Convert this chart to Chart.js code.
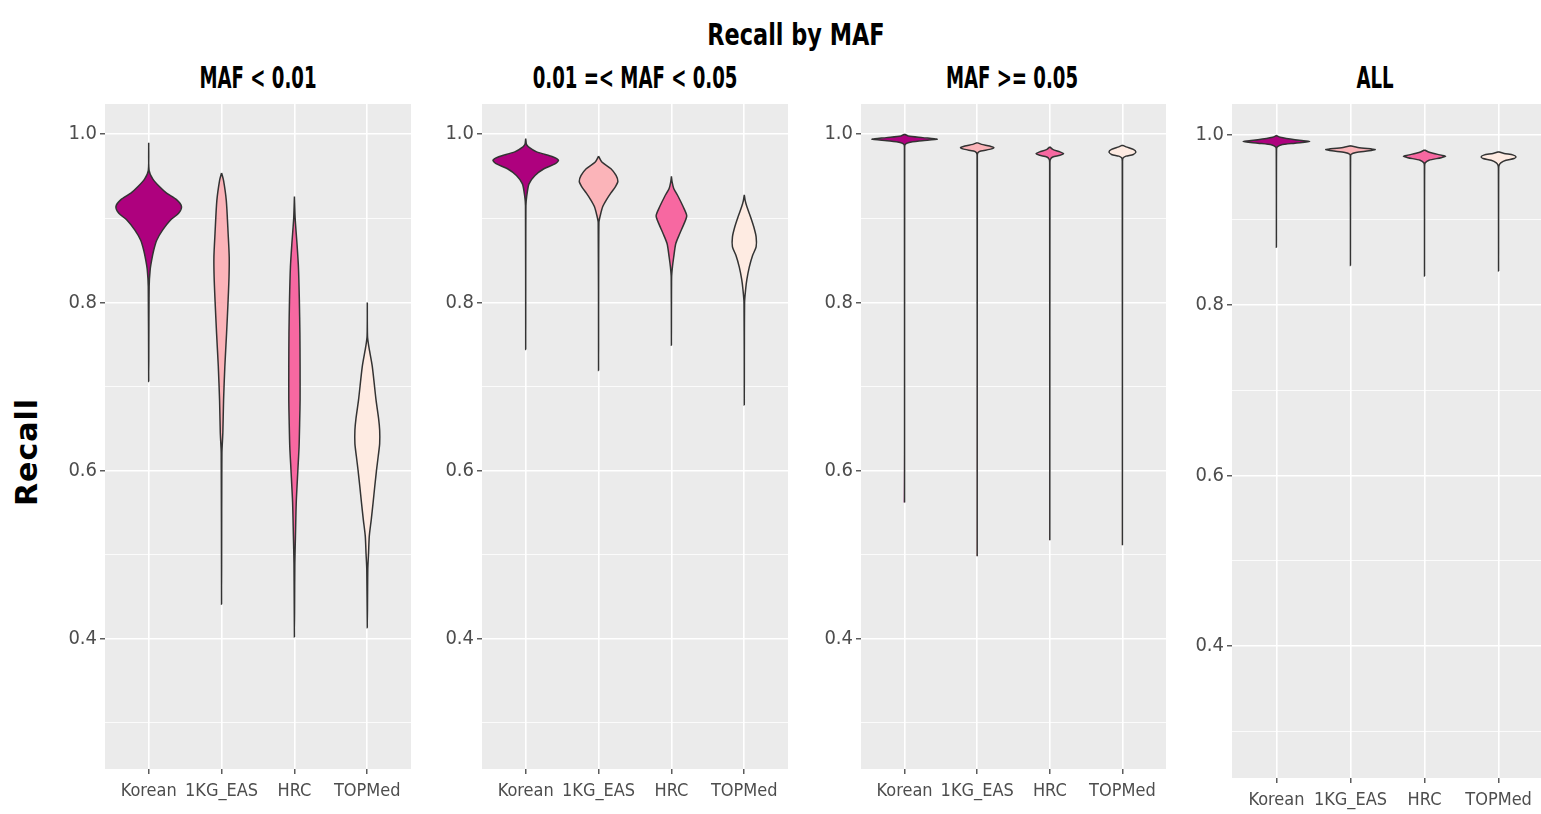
<!DOCTYPE html>
<html>
<head>
<meta charset="utf-8">
<script src="https://cdn.jsdelivr.net/npm/chart.js@4.4.1/dist/chart.umd.min.js"></script>
<style>
    body {
        margin: 0;
        width: 1541px;
        height: 814px;
        overflow: hidden;
        position: relative;
        background: #fff;
        font-family: 'DejaVu Sans Condensed', 'DejaVu Sans', sans-serif;
    }
    canvas { position: absolute; }
    .title {
        position: absolute;
        font-weight: bold;
        color: #000;
        white-space: nowrap;
        line-height: 1;
    }
    #main-title { font-size: 30px; left: 796px; top: 20px; transform: translateX(-50%) scaleX(0.83); }
    .panel-title { font-size: 31px; top: 62px; transform: translateX(-50%) scaleX(0.65); }
    #y-title {
        position: absolute;
        left: 27px;
        top: 452px;
        font-family: 'DejaVu Sans', sans-serif;
        font-weight: bold;
        font-size: 30px;
        letter-spacing: 1px;
        line-height: 1;
        transform: translate(-50%, -50%) rotate(-90deg);
    }
</style>
</head>
<body>
<div id="main-title" class="title">Recall by MAF</div>
<div id="y-title">Recall</div>

<script>
const groups = ['Korean', '1KG_EAS', 'HRC', 'TOPMed'];
const groupColors = ['#AE017E', '#FBB4B9', '#F768A1', '#FEEBE2'];
const panelTitles = ['MAF < 0.01', '0.01 =< MAF < 0.05', 'MAF >= 0.05', 'ALL'];
const yMajorTicks = [0.4, 0.6, 0.8, 1.0];
const yMinorTicks = [0.3, 0.5, 0.7, 0.9];
const yRange = [0.245, 1.036];

// violin outlines: [recall, full width in category units], top to bottom
const lowKorean = [[0.990, 0], [0.957, 0.01], [0.947, 0.11], [0.9375, 0.30], [0.930, 0.49], [0.922, 0.77], [0.914, 0.90],
    [0.906, 0.82], [0.898, 0.60], [0.886, 0.38], [0.874, 0.22], [0.862, 0.137], [0.850, 0.08], [0.839, 0.04], [0.819, 0.012], [0.706, 0]];
const lowEas = [[0.954, 0], [0.945, 0.055], [0.921, 0.13], [0.882, 0.18], [0.854, 0.21], [0.831, 0.205], [0.803, 0.18],
    [0.763, 0.137], [0.724, 0.09], [0.684, 0.055], [0.645, 0.035], [0.621, 0.01], [0.441, 0]];
const lowHrc = [[0.926, 0], [0.90, 0.02], [0.87, 0.07], [0.842, 0.11], [0.803, 0.135], [0.763, 0.15], [0.724, 0.155],
    [0.684, 0.155], [0.660, 0.145], [0.629, 0.128], [0.601, 0.095], [0.562, 0.05], [0.522, 0.028], [0.49, 0.012], [0.402, 0]];
const lowTopmed = [[0.800, 0], [0.760, 0.006], [0.748, 0.04], [0.724, 0.137], [0.684, 0.24], [0.662, 0.31], [0.648, 0.34],
    [0.632, 0.34], [0.617, 0.30], [0.601, 0.255], [0.581, 0.205], [0.562, 0.16], [0.542, 0.11], [0.522, 0.055], [0.502, 0.035], [0.483, 0.014], [0.413, 0]];

const midKorean = [[0.995, 0], [0.988, 0.02], [0.985, 0.075], [0.979, 0.30], [0.973, 0.755], [0.969, 0.90], [0.965, 0.815],
    [0.959, 0.50], [0.951, 0.255], [0.941, 0.09], [0.926, 0.027], [0.915, 0.006], [0.744, 0]];
const midEas = [[0.974, 0], [0.967, 0.09], [0.959, 0.34], [0.951, 0.48], [0.944, 0.53], [0.9375, 0.46], [0.930, 0.335],
    [0.922, 0.215], [0.914, 0.115], [0.904, 0.05], [0.895, 0.01], [0.719, 0]];
const midHrc = [[0.950, 0], [0.943, 0.02], [0.9355, 0.063], [0.926, 0.185], [0.914, 0.32], [0.903, 0.42], [0.894, 0.35],
    [0.882, 0.23], [0.870, 0.12], [0.854, 0.063], [0.842, 0.027], [0.83, 0.006], [0.749, 0]];
const midTopmed = [[0.928, 0], [0.921, 0.025], [0.914, 0.07], [0.902, 0.17], [0.890, 0.26], [0.878, 0.325], [0.866, 0.325],
    [0.856, 0.23], [0.842, 0.137], [0.827, 0.07], [0.815, 0.036], [0.80, 0.008], [0.678, 0]];

const highKorean = [[1.0, 0], [0.998, 0.1], [0.996, 0.5], [0.994, 0.9], [0.992, 0.4], [0.990, 0.1], [0.988, 0.02], [0.985, 0.004], [0.562, 0]];
const highEas = [[0.990, 0], [0.988, 0.12], [0.986, 0.34], [0.984, 0.46], [0.982, 0.34], [0.980, 0.1], [0.978, 0.02], [0.975, 0.004], [0.498, 0]];
const highHrc = [[0.985, 0], [0.982, 0.08], [0.979, 0.28], [0.977, 0.38], [0.975, 0.28], [0.973, 0.08], [0.970, 0.015], [0.966, 0.004], [0.517, 0]];
const highTopmed = [[0.987, 0], [0.985, 0.1], [0.982, 0.3], [0.979, 0.37], [0.976, 0.3], [0.974, 0.1], [0.972, 0.02], [0.968, 0.004], [0.511, 0]];

const allKorean = [[0.999, 0], [0.997, 0.1], [0.994, 0.5], [0.992, 0.9], [0.990, 0.5], [0.988, 0.12], [0.9855, 0.02], [0.982, 0.004], [0.868, 0]];
const allEas = [[0.987, 0], [0.985, 0.2], [0.983, 0.6], [0.9825, 0.667], [0.981, 0.5], [0.979, 0.15], [0.977, 0.02], [0.974, 0.004], [0.8465, 0]];
const allHrc = [[0.982, 0], [0.979, 0.15], [0.976, 0.45], [0.9747, 0.57], [0.973, 0.45], [0.970, 0.12], [0.967, 0.02], [0.963, 0.004], [0.834, 0]];
const allTopmed = [[0.980, 0], [0.978, 0.15], [0.976, 0.4], [0.974, 0.47], [0.972, 0.42], [0.970, 0.2], [0.967, 0.06], [0.964, 0.015], [0.960, 0.004], [0.840, 0]];

const panelViolins = [
    [lowKorean, lowEas, lowHrc, lowTopmed],
    [midKorean, midEas, midHrc, midTopmed],
    [highKorean, highEas, highHrc, highTopmed],
    [allKorean, allEas, allHrc, allTopmed]
];

// plot area of each panel on the page (px)
const panelBoxes = [
    { left: 105, top: 104, width: 306, height: 665, titleX: 258 },
    { left: 482, top: 104, width: 306, height: 665, titleX: 635 },
    { left: 861, top: 104, width: 305, height: 665, titleX: 1012 },
    { left: 1232, top: 104, width: 311, height: 674, titleX: 1375 }
];
const Y_AXIS_W = 45;
const X_AXIS_H = 45;
const PAD_TOP = 24;
const FONT = "'DejaVu Sans Condensed', 'DejaVu Sans', sans-serif";

function isMajor(v) {
    return yMajorTicks.some(m => Math.abs(m - v) < 1e-6);
}

// closed outline: right side going down, left side coming back up
function violinPath(profile, center) {
    const right = profile.map(([y, w]) => ({ x: center + w / 2, y: y }));
    const left = profile.slice(1, -1).reverse().map(([y, w]) => ({ x: center - w / 2, y: y }));
    return right.concat(left, [right[0]]);
}

const panelBackground = {
    id: 'panelBackground',
    beforeDraw(chart) {
        const a = chart.chartArea;
        const ctx = chart.ctx;
        ctx.save();
        ctx.fillStyle = '#EBEBEB';
        ctx.fillRect(a.left, a.top, a.right - a.left, a.bottom - a.top);
        ctx.restore();
    }
};

// fill the inside of each violin outline before the line itself is stroked
const violinFill = {
    id: 'violinFill',
    beforeDatasetDraw(chart, args) {
        const meta = args.meta;
        const pts = meta.data;
        if (!pts.length) return;
        meta.dataset.updateControlPoints(chart.chartArea, 'x');
        const ctx = chart.ctx;
        const a = chart.chartArea;
        ctx.save();
        ctx.beginPath();
        ctx.rect(a.left, a.top, a.right - a.left, a.bottom - a.top);
        ctx.clip();
        ctx.beginPath();
        ctx.moveTo(pts[0].x, pts[0].y);
        for (let i = 1; i < pts.length; i++) {
            const p = pts[i - 1], q = pts[i];
            if (p.cp2x !== undefined && q.cp1x !== undefined) {
                ctx.bezierCurveTo(p.cp2x, p.cp2y, q.cp1x, q.cp1y, q.x, q.y);
            } else {
                ctx.lineTo(q.x, q.y);
            }
        }
        ctx.closePath();
        ctx.fillStyle = chart.data.datasets[args.index].backgroundColor;
        ctx.fill();
        ctx.restore();
    }
};

panelBoxes.forEach((box, p) => {
    const title = document.createElement('div');
    title.className = 'title panel-title';
    title.style.left = box.titleX + 'px';
    title.textContent = panelTitles[p];
    document.body.appendChild(title);

    const canvas = document.createElement('canvas');
    const w = Y_AXIS_W + box.width;
    const h = PAD_TOP + box.height + X_AXIS_H;
    canvas.width = w;
    canvas.height = h;
    canvas.style.width = w + 'px';
    canvas.style.height = h + 'px';
    canvas.style.left = (box.left - Y_AXIS_W) + 'px';
    canvas.style.top = (box.top - PAD_TOP) + 'px';
    document.body.appendChild(canvas);

    const datasets = panelViolins[p].map((profile, g) => ({
        data: violinPath(profile, g + 1),
        borderColor: '#333333',
        borderWidth: 1.5,
        backgroundColor: groupColors[g],
        pointRadius: 0,
        pointHoverRadius: 0,
        tension: 0.25,
        fill: false
    }));

    new Chart(canvas, {
        type: 'line',
        data: { datasets: datasets },
        plugins: [panelBackground, violinFill],
        options: {
            responsive: false,
            devicePixelRatio: 1,
            animation: false,
            events: [],
            layout: { padding: { top: PAD_TOP, left: 0, right: 0, bottom: 0 } },
            plugins: {
                legend: { display: false },
                tooltip: { enabled: false },
                title: { display: false }
            },
            scales: {
                x: {
                    type: 'linear',
                    min: 0.4,
                    max: 4.6,
                    afterBuildTicks: scale => { scale.ticks = groups.map((g, i) => ({ value: i + 1 })); },
                    afterFit: scale => { scale.height = X_AXIS_H; },
                    border: { display: false },
                    grid: {
                        color: '#FFFFFF',
                        lineWidth: 1.6,
                        tickColor: '#333333',
                        tickWidth: 1.2,
                        tickLength: 5
                    },
                    ticks: {
                        autoSkip: false,
                        maxRotation: 0,
                        padding: 7,
                        color: '#4D4D4D',
                        font: { family: FONT, size: 18 },
                        callback: v => groups[Math.round(v) - 1]
                    }
                },
                y: {
                    type: 'linear',
                    min: yRange[0],
                    max: yRange[1],
                    afterBuildTicks: scale => {
                        scale.ticks = yMinorTicks.concat(yMajorTicks).sort((a, b) => a - b).map(v => ({ value: v }));
                    },
                    afterFit: scale => { scale.width = Y_AXIS_W; },
                    border: { display: false },
                    grid: {
                        color: '#FFFFFF',
                        lineWidth: c => isMajor(c.tick.value) ? 1.6 : 0.8,
                        tickColor: c => isMajor(c.tick.value) ? '#333333' : 'rgba(0,0,0,0)',
                        tickWidth: 1.2,
                        tickLength: 5
                    },
                    ticks: {
                        autoSkip: false,
                        padding: 3,
                        color: '#4D4D4D',
                        font: { family: FONT, size: 20 },
                        callback: v => isMajor(v) ? v.toFixed(1) : ''
                    }
                }
            }
        }
    });
});
</script>
</body>
</html>
